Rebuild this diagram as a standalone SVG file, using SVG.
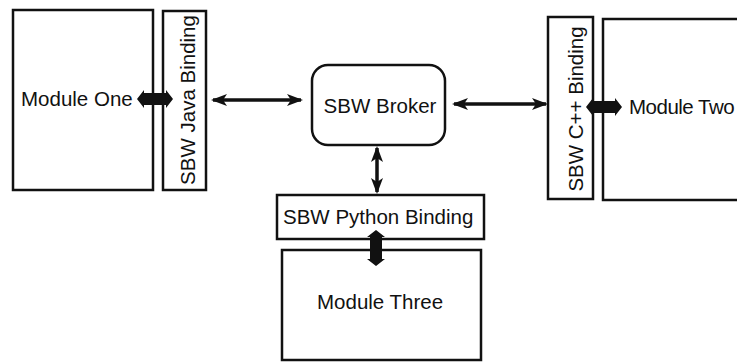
<svg xmlns="http://www.w3.org/2000/svg" width="737" height="362" viewBox="0 0 737 362">
<style>
.box{fill:#fff;stroke:#111;stroke-width:2.5}
.t{font-family:"Liberation Sans",Arial,sans-serif;font-size:20.5px;fill:#111}
.thin{stroke:#111;stroke-width:3.5;fill:none;marker-start:url(#ah);marker-end:url(#ah)}
.thick{fill:#111;stroke:none}
</style>
<defs>
<marker id="ah" viewBox="0 0 16 12" refX="14" refY="6" markerWidth="16" markerHeight="12" markerUnits="userSpaceOnUse" orient="auto-start-reverse">
<path d="M0,0 L16,6 L0,12 L4,6 z" fill="#111"/>
</marker>
<path id="dbl" d="M-18,0 L-11,-9 L-11,-6 L11,-6 L11,-9 L18,0 L11,9 L11,6 L-11,6 L-11,9 z"/>
</defs>
<rect width="737" height="362" fill="#fff"/>
<g id="module-one">
<rect class="box" x="13" y="10" width="140" height="180"/>
<text class="t" x="21" y="106">Module One</text>
</g>
<g id="java-binding">
<rect class="box" x="163" y="11" width="43" height="179"/>
<text class="t" text-anchor="middle" transform="translate(195,100) rotate(-90)">SBW Java Binding</text>
</g>
<g id="broker">
<rect class="box" x="312" y="65" width="133" height="80" rx="16" ry="16"/>
<text class="t" x="380" y="113" text-anchor="middle">SBW Broker</text>
</g>
<g id="cpp-binding">
<rect class="box" x="548" y="17" width="45" height="182"/>
<text class="t" text-anchor="middle" transform="translate(583,109) rotate(-90)">SBW C++ Binding</text>
</g>
<g id="module-two">
<rect class="box" x="603" y="19" width="150" height="181"/>
<text class="t" x="629" y="114" letter-spacing="-0.5">Module Two</text>
</g>
<g id="python-binding">
<rect class="box" x="277" y="195" width="207" height="44"/>
<text class="t" x="283" y="224">SBW Python Binding</text>
</g>
<g id="module-three">
<rect class="box" x="282" y="250" width="199" height="110"/>
<text class="t" x="317" y="309">Module Three</text>
</g>
<g id="connectors">
<line class="thin" x1="213" y1="100" x2="301" y2="100"/>
<line class="thin" x1="454" y1="104" x2="546" y2="104"/>
<line class="thin" x1="377" y1="148" x2="377" y2="192"/>
<use href="#dbl" class="thick" transform="translate(155,99)"/>
<use href="#dbl" class="thick" transform="translate(604,107)"/>
<use href="#dbl" class="thick" transform="translate(376,248) rotate(90)"/>
</g>
</svg>
